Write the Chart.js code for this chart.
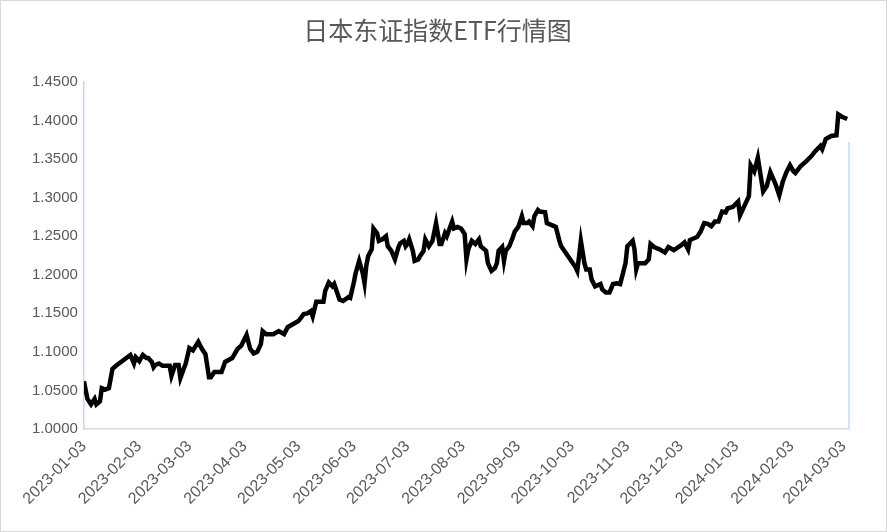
<html>
<head>
<style>
  body { margin: 0; background: #fff; }
  #wrap { width: 885px; height: 530px; border: 1px solid #d9d9d9; }
</style>
</head>
<body>
<div id="wrap"><canvas id="etfChart" width="885" height="530"></canvas></div>
<script src="https://cdn.jsdelivr.net/npm/chart.js"></script>
<script>
// days since 2023-01-03
const days = [0,2,4,6,7,9,10,12,14,16,18,26,28,29,31,33,35,36,38,39,40,42,44,48,49,51,53,54,56,57,59,61,64,66,68,70,71,73,77,79,83,86,88,91,93,95,97,99,100,102,106,109,112,114,120,123,125,127,128,130,131,133,134,135,137,139,140,143,145,148,149,151,152,154,156,157,158,159,161,162,164,165,167,169,170,172,174,176,177,179,180,181,182,184,185,187,188,190,191,193,195,197,199,200,202,203,206,207,209,211,213,214,215,217,219,221,222,225,226,228,230,231,232,234,235,236,238,240,241,243,245,246,248,249,251,252,254,255,258,259,262,264,266,267,275,276,277,278,280,281,283,284,286,289,290,292,294,296,298,300,303,304,307,308,309,310,314,316,317,319,322,325,327,330,334,336,338,339,340,343,345,347,349,351,353,355,357,359,360,363,366,367,372,373,375,377,380,382,384,387,389,391,393,395,397,398,401,404,407,409,412,413,415,418,421,422,424,427];
const values = [1.062,1.039,1.032,1.039,1.032,1.036,1.053,1.051,1.053,1.078,1.082,1.096,1.085,1.093,1.088,1.096,1.092,1.092,1.087,1.080,1.083,1.085,1.082,1.082,1.069,1.083,1.083,1.066,1.079,1.085,1.105,1.102,1.113,1.104,1.097,1.067,1.067,1.074,1.074,1.087,1.092,1.104,1.108,1.122,1.104,1.098,1.100,1.110,1.127,1.123,1.123,1.127,1.123,1.132,1.140,1.149,1.150,1.153,1.146,1.165,1.165,1.165,1.165,1.179,1.190,1.185,1.188,1.168,1.166,1.171,1.170,1.190,1.202,1.218,1.202,1.189,1.212,1.224,1.233,1.260,1.254,1.244,1.246,1.250,1.237,1.231,1.220,1.236,1.241,1.244,1.237,1.240,1.246,1.231,1.218,1.220,1.224,1.231,1.246,1.237,1.244,1.267,1.240,1.240,1.254,1.250,1.269,1.260,1.262,1.260,1.253,1.220,1.233,1.244,1.240,1.246,1.237,1.231,1.215,1.205,1.209,1.215,1.231,1.236,1.218,1.231,1.237,1.249,1.256,1.262,1.276,1.267,1.267,1.269,1.263,1.276,1.284,1.282,1.281,1.267,1.264,1.262,1.244,1.237,1.210,1.205,1.224,1.244,1.215,1.207,1.207,1.194,1.185,1.188,1.181,1.177,1.177,1.188,1.189,1.188,1.215,1.237,1.244,1.233,1.207,1.215,1.215,1.220,1.240,1.236,1.233,1.229,1.236,1.232,1.238,1.242,1.233,1.245,1.246,1.249,1.256,1.267,1.266,1.263,1.269,1.269,1.282,1.281,1.286,1.288,1.295,1.277,1.302,1.342,1.334,1.352,1.308,1.315,1.333,1.317,1.303,1.321,1.333,1.342,1.334,1.332,1.341,1.347,1.354,1.360,1.367,1.363,1.376,1.380,1.381,1.408,1.405,1.402];
const tickDays = [0,31,59,90,120,151,181,212,243,273,304,334,365,396,425];
const tickLabels = ['2023-01-03','2023-02-03','2023-03-03','2023-04-03','2023-05-03','2023-06-03','2023-07-03','2023-08-03','2023-09-03','2023-10-03','2023-11-03','2023-12-03','2024-01-03','2024-02-03','2024-03-03'];

const points = days.map((d, i) => ({ x: d, y: values[i] }));

new Chart(document.getElementById('etfChart').getContext('2d'), {
  type: 'line',
  data: {
    datasets: [{
      data: points,
      borderColor: '#000',
      borderWidth: 4.5,
      pointRadius: 0,
      tension: 0,
      fill: false
    }]
  },
  options: {
    responsive: false,
    animation: false,
    layout: { padding: { left: 25, right: 37, top: 0, bottom: 0 } },
    plugins: {
      legend: { display: false },
      tooltip: { enabled: false },
      title: {
        display: true,
        text: '日本东证指数ETF行情图',
        color: '#595959',
        font: { size: 25, family: 'Noto Sans CJK SC', weight: 'normal' },
        padding: { top: 14, bottom: 37 }
      }
    },
    scales: {
      x: {
        type: 'linear',
        min: 0,
        max: 428,
        afterBuildTicks: axis => { axis.ticks = tickDays.map(v => ({ value: v })); },
        afterFit: axis => { axis.height = 102; },
        ticks: {
          color: '#595959',
          font: { size: 16, family: 'Liberation Sans' },
          maxRotation: 45,
          minRotation: 45,
          callback: v => { const i = tickDays.indexOf(v); return i >= 0 ? tickLabels[i] : ''; }
        },
        grid: { display: false, drawTicks: true, tickLength: 5, color: '#d9d9d9' },
        border: { color: '#d9d9d9', width: 1.5 }
      },
      y: {
        min: 1.0,
        max: 1.45,
        ticks: {
          stepSize: 0.05,
          color: '#595959',
          font: { size: 15, family: 'Liberation Sans' },
          padding: 6,
          callback: v => v.toFixed(4)
        },
        grid: { display: false, drawTicks: false },
        border: { color: '#c9d7ee', width: 1.5 }
      }
    }
  },
  plugins: [{
    id: 'rightEdge',
    afterDraw(chart) {
      const { ctx, chartArea } = chart;
      ctx.save();
      ctx.strokeStyle = '#c9d7ee';
      ctx.lineWidth = 1.5;
      ctx.beginPath();
      ctx.moveTo(chartArea.right, chartArea.top + 60);
      ctx.lineTo(chartArea.right, chartArea.bottom);
      ctx.stroke();
      ctx.restore();
    }
  }]
});
</script>
</body>
</html>
